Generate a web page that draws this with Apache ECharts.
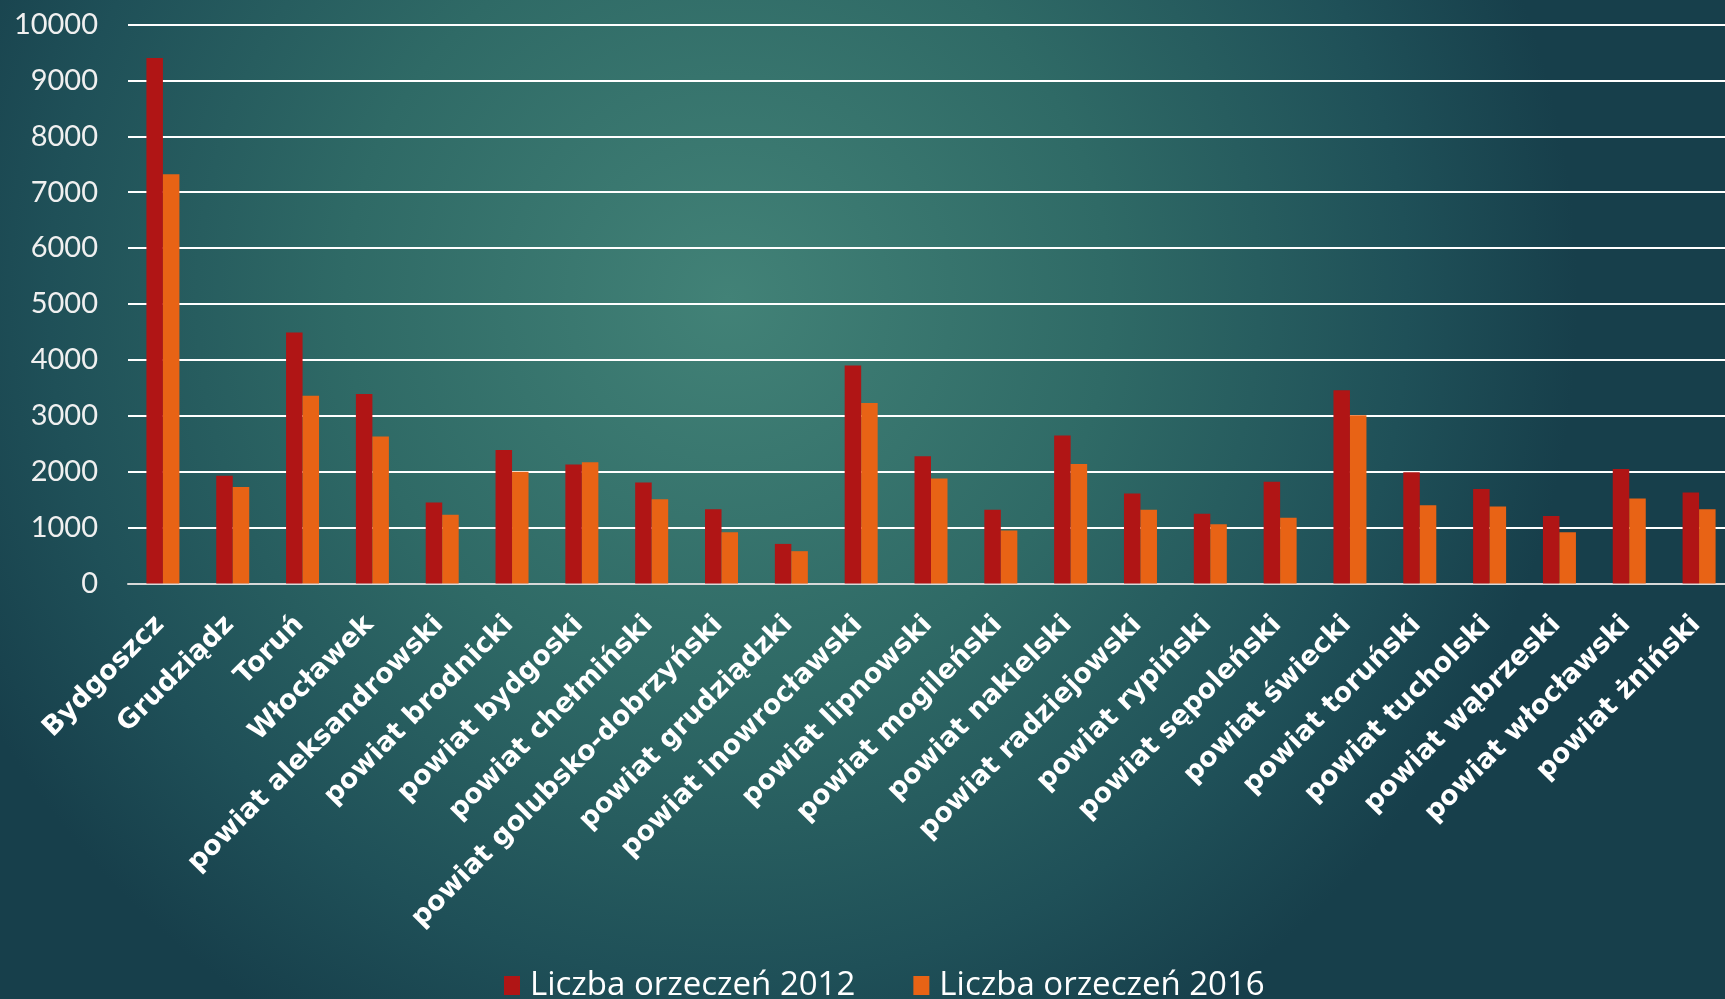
<!DOCTYPE html>
<html>
<head>
<meta charset="utf-8">
<script src="https://cdn.jsdelivr.net/npm/echarts@6/dist/echarts.min.js"></script>
<style>
html,body{margin:0;padding:0;width:1725px;height:999px;overflow:hidden;background:#173f4b;}
#chart{width:1734px;height:999px;}
</style>
</head>
<body>
<div id="chart"></div>
<script>
const categories = ['Bydgoszcz','Grudziądz','Toruń','Włocławek','powiat aleksandrowski','powiat brodnicki','powiat bydgoski','powiat chełmiński','powiat golubsko-dobrzyński','powiat grudziądzki','powiat inowrocławski','powiat lipnowski','powiat mogileński','powiat nakielski','powiat radziejowski','powiat rypiński','powiat sępoleński','powiat świecki','powiat toruński','powiat tucholski','powiat wąbrzeski','powiat włocławski','powiat żniński'];
const values2012 = [9400,1930,4490,3390,1450,2390,2130,1810,1330,710,3900,2280,1320,2650,1610,1250,1820,3460,1990,1690,1210,2050,1630];
const values2016 = [7320,1730,3360,2630,1230,2000,2170,1510,920,580,3230,1880,950,2140,1320,1060,1180,3010,1400,1380,920,1520,1330];
const seriesNames = ['Liczba orzeczeń 2012','Liczba orzeczeń 2016'];
const yTicks = {min:0, max:10000, interval:1000};

const chart = echarts.init(document.getElementById('chart'));
chart.setOption({
  backgroundColor: {
    type:'radial', x:0.42, y:0.3, r:0.85,
    colorStops:[
      {offset:0, color:'#428277'},
      {offset:0.45, color:'#2f6a66'},
      {offset:0.8, color:'#1f5058'},
      {offset:1, color:'#173f4b'}
    ]
  },
  animation:false,
  grid:{left:128, right:0, top:24.5, bottom:415.4, containLabel:false},
  legend:{
    data:seriesNames,
    bottom:-8, left:499,
    itemWidth:16, itemHeight:19, itemGap:58,
    icon:'rect',
    textStyle:{color:'#ffffff', fontSize:33, fontFamily:'Open Sans', fontWeight:'normal', padding:[0,0,0,5]}
  },
  xAxis:{
    type:'category', data:categories,
    axisLine:{show:true, lineStyle:{color:'#d8d8d8', width:2}},
    axisTick:{show:false},
    axisLabel:{interval:0, rotate:45, color:'#ffffff', fontSize:27, fontWeight:'bold', fontFamily:'DejaVu Sans', margin:34, padding:[0,4,0,0]}
  },
  yAxis:{
    type:'value', min:yTicks.min, max:yTicks.max, interval:yTicks.interval,
    axisLine:{show:false}, axisTick:{show:false},
    axisLabel:{color:'#f0f0f0', fontSize:29, fontFamily:'Lato', margin:30, formatter:function(v){return String(v);}},
    splitLine:{lineStyle:{color:'#ffffff', width:2}}
  },
  series:[
    {name:seriesNames[0], type:'bar', data:values2012, barWidth:16.5, barGap:'0%', itemStyle:{color:'#b01515'}},
    {name:seriesNames[1], type:'bar', data:values2016, barWidth:16.5, barGap:'0%', itemStyle:{color:'#e86315'}}
  ]
});
</script>
</body>
</html>
